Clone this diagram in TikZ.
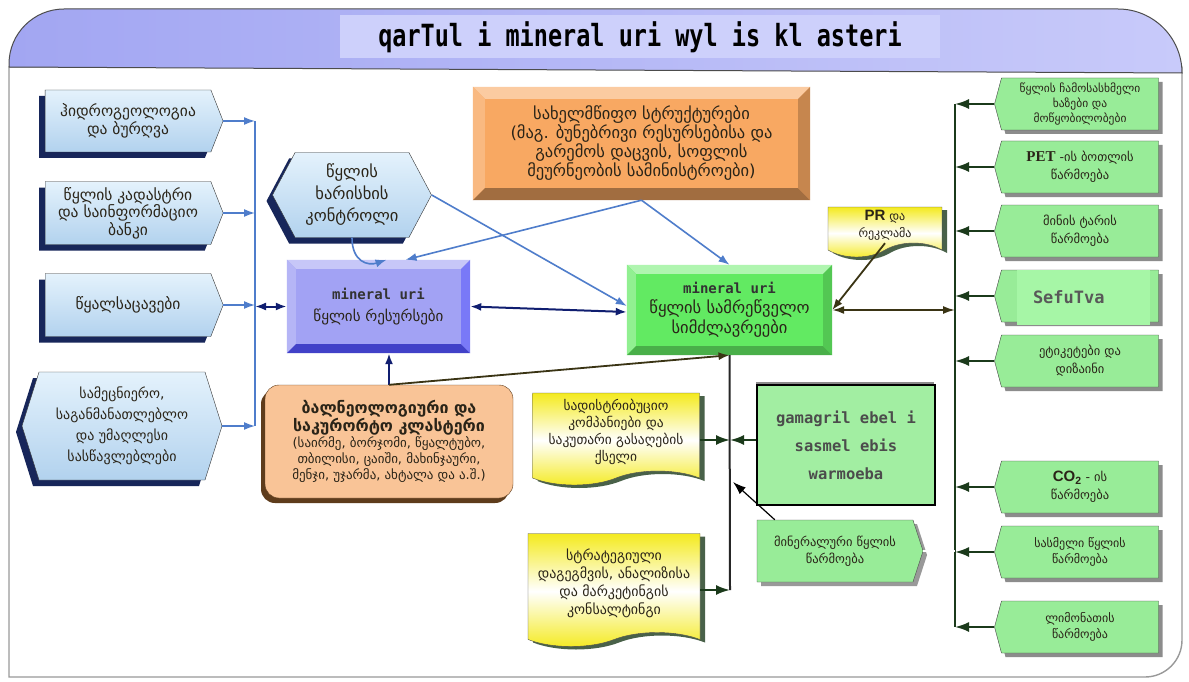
\documentclass[tikz,border=0pt]{standalone}
\usepackage{fontspec}
\setmainfont{DejaVu Sans}
\newfontfamily\monofont{DejaVu Sans Mono}
\newfontfamily\arialfont{Liberation Sans}
\newfontfamily\timesfont{Liberation Serif}
\usetikzlibrary{shapes.symbols,shadows,arrows.meta}

\definecolor{inkbrown}{HTML}{2A2418}
\definecolor{paleblue}{HTML}{E4F2FC}
\definecolor{skyblue}{HTML}{B2D2EE}
\definecolor{navyshadow}{HTML}{17265A}
\definecolor{linkblue}{HTML}{4F7DCB}
\definecolor{navyline}{HTML}{101E70}
\definecolor{oliveline}{HTML}{3A3414}
\definecolor{forest}{HTML}{1B3A1B}
\definecolor{mintgreen}{HTML}{98EC98}
\definecolor{palemint}{HTML}{A6F6A6}
\definecolor{docyellow}{HTML}{F4EA1E}
\definecolor{peach}{HTML}{F9C497}
\definecolor{bark}{HTML}{5E3C1C}
\definecolor{headerleft}{HTML}{A2A6F2}
\definecolor{headerright}{HTML}{C8CAFA}
\definecolor{titleband}{HTML}{CDD0FB}
\definecolor{lavender}{HTML}{A2A2F4}
\definecolor{orangeface}{HTML}{F8A862}
\definecolor{greenface}{HTML}{62EA62}

\tikzset{
    leftbox/.style = {
        signal, signal to=east,
        draw            = black!80,
        top color       = paleblue,
        bottom color    = skyblue,
        text            = inkbrown,
        align           = center,
        inner sep       = 1pt,
        font            = \fontsize{15.5}{17.5}\selectfont,
        drop shadow     = {shadow xshift=-6pt, shadow yshift=-6pt, fill=navyshadow, opacity=1},
    },
    rightbox/.style = {
        signal, signal to=west,
        signal pointer angle = 150,
        draw            = black!75,
        fill            = mintgreen,
        text            = inkbrown,
        align           = center,
        inner sep       = 1pt,
        minimum width   = 164pt,
        minimum height  = 52pt,
        font            = \fontsize{12.5}{18}\selectfont,
        drop shadow     = {shadow xshift=4pt, shadow yshift=-4pt, fill=black!45, opacity=1},
    },
    bevelbox/.style = {
        rectangle,
        text            = inkbrown,
        align           = center,
        inner sep       = 1pt,
    },
    docbox/.style = {
        tape, tape bend top=none, tape bend bottom=in and out,
        tape bend height = 14pt,
        draw            = black!70,
        top color       = docyellow,
        bottom color    = docyellow,
        middle color    = white,
        text            = inkbrown,
        align           = center,
        inner sep       = 1pt,
        font            = \fontsize{13.5}{17}\selectfont,
        drop shadow     = {shadow xshift=5pt, shadow yshift=-3pt, fill=forest!80, opacity=1},
    },
    bluelink/.style  = {-{Latex[length=11pt,width=8pt]}, draw=linkblue, line width=1.6pt},
    navylink/.style  = {-{Latex[length=11pt,width=8pt]}, draw=navyline, line width=2pt},
    olivelink/.style = {-{Latex[length=11pt,width=8pt]}, draw=oliveline, line width=1.8pt},
    greenlink/.style = {-{Latex[length=14pt,width=10pt]}, draw=forest, line width=2pt},
    blacklink/.style = {-{Latex[length=13pt,width=9pt]}, draw=black, line width=1.2pt},
}

% bevel: node, top, left, bottom, right colours, depth
\newcommand\bevel[6]{%
  \fill[#2] (#1.north west) -- (#1.north east) -- ([shift={(-#6,-#6)}]#1.north east) -- ([shift={(#6,-#6)}]#1.north west) -- cycle;
  \fill[#3] (#1.north west) -- ([shift={(#6,-#6)}]#1.north west) -- ([shift={(#6,#6)}]#1.south west) -- (#1.south west) -- cycle;
  \fill[#4] (#1.south west) -- ([shift={(#6,#6)}]#1.south west) -- ([shift={(-#6,#6)}]#1.south east) -- (#1.south east) -- cycle;
  \fill[#5] (#1.south east) -- ([shift={(-#6,#6)}]#1.south east) -- ([shift={(-#6,-#6)}]#1.north east) -- (#1.north east) -- cycle;
}

\begin{document}
\begin{tikzpicture}[x=1pt,y=-1pt]
  \useasboundingbox (0,0) rectangle (1189,682);

  % Frame and header
  \draw[draw=black!40, line width=1.4pt, fill=white] (9,67) -- (9,677) -- (1145,677)
     arc[start angle=-90, end angle=0, radius=37pt] -- (1182,67) -- cycle;
  \draw[draw=black!70, line width=1pt, left color=headerleft, right color=headerright]
     (9,67) -- (9,64) arc[start angle=180, end angle=90, radius=55pt] -- (1118,9)
     arc[start angle=90, end angle=0, radius=64pt] -- cycle;
  \node[fill=titleband, minimum width=600pt, minimum height=43pt,
        font=\monofont\bfseries\fontsize{23.5}{23.5}\selectfont] (Title) at (640,37) {\scalebox{1}[1.3]{qarTul i mineral uri wyl is kl asteri}};

  % Left column
  \node[leftbox, minimum width=178pt, minimum height=62pt, signal pointer angle=137] (Hydro) at (128,121) {ჰიდროგეოლოგია\\და ბურღვა};
  \node[leftbox, minimum width=178pt, minimum height=63pt, signal pointer angle=137] (Cadastre) at (128,213) {წყლის კადასტრი\\და საინფორმაციო\\ბანკი};
  \node[leftbox, minimum width=178pt, minimum height=63pt, signal pointer angle=137] (Reservoirs) at (128,305) {წყალსაცავები};
  \node[leftbox, signal to=east and west, minimum width=200pt, minimum height=108pt, signal pointer angle=145,
        font=\fontsize{14}{21}\selectfont] (Science) at (122,426) {სამეცნიერო,\\საგანმანათლებლო\\და უმაღლესი\\სასწავლებლები};

  \coordinate (LeftBus) at (255,0);
  \draw[draw=linkblue, line width=2pt] (LeftBus |- Hydro.east) to (LeftBus |- Science.east);
  \draw[bluelink] (Hydro.east) to (LeftBus |- Hydro.east);
  \draw[bluelink] (Cadastre.east) to (LeftBus |- Cadastre.east);
  \draw[bluelink] (Reservoirs.east) to (LeftBus |- Reservoirs.east);
  \draw[bluelink] (Science.east) to (LeftBus |- Science.east);

  % Water resources
  \node[leftbox, signal to=east and west, minimum width=159pt, minimum height=85pt, signal pointer angle=124,
        font=\fontsize{16.5}{22}\selectfont] (Quality) at (352,195) {წყლის\\ხარისხის\\კონტროლი};
  \node[bevelbox, fill=lavender, minimum width=183pt, minimum height=93pt, font=\fontsize{15}{22}\selectfont] (Resources) at (378.5,306.5)
       {{\monofont\bfseries\fontsize{14}{14}\selectfont\color{black!80}mineral uri}\\წყლის რესურსები};
  \bevel{Resources}{lavender!60!white}{lavender!80!white}{lavender!50!blue!80!black}{lavender!75!blue}{9pt}

  % State structures
  \node[bevelbox, fill=orangeface, minimum width=337pt, minimum height=113pt, font=\fontsize{16.5}{19}\selectfont] (Gov) at (641.5,143.5)
       {სახელმწიფო სტრუქტურები\\(მაგ. ბუნებრივი რესურსებისა და\\გარემოს დაცვის, სოფლის\\მეურნეობის სამინისტროები)};
  \bevel{Gov}{orangeface!60!white}{orangeface!80!white}{orangeface!65!black}{orangeface!80!black}{12pt}

  % Industrial capacities
  \node[bevelbox, fill=greenface, minimum width=205pt, minimum height=90pt, font=\fontsize{16.5}{20}\selectfont] (Industry) at (729.5,310)
       {{\monofont\bfseries\fontsize{14}{14}\selectfont\color{black!80}mineral uri}\\წყლის სამრეწველო\\სიმძლავრეები};
  \bevel{Industry}{greenface!50!white}{greenface!70!white}{greenface!75!black}{greenface!85!black}{9pt}

  % Balneology cluster
  \node[rounded corners=14pt, draw=bark, fill=peach, text=inkbrown, align=center, inner sep=1pt,
        minimum width=248pt, minimum height=113pt, font=\fontsize{13}{16}\selectfont,
        drop shadow={shadow xshift=-4pt, shadow yshift=-5pt, fill=bark, opacity=1}] (Balneo) at (389,441.5)
       {{\bfseries\fontsize{16}{20}\selectfont ბალნეოლოგიური და}\\{\bfseries\fontsize{16}{20}\selectfont საკურორტო კლასტერი}\\(საირმე, ბორჯომი, წყალტუბო,\\თბილისი, ცაიში, მახინჯაური,\\მენჯი, უჯარმა, ახტალა და ა.შ.)};

  \draw[bluelink] (Gov.south) to ([xshift=27pt]Resources.north);
  \draw[bluelink] (Gov.south) to (Industry.north);
  \draw[bluelink] (Quality.south) .. controls (352,262) and (368,266) .. ([xshift=8pt]Resources.north);
  \draw[bluelink] (Quality.east) to ([yshift=4pt]Industry.west);
  \draw[navylink, {Latex[length=11pt,width=8pt]}-{Latex[length=11pt,width=8pt]}] (LeftBus |- Resources.west) to (Resources.west);
  \draw[navylink, {Latex[length=11pt,width=8pt]}-{Latex[length=11pt,width=8pt]}] (Resources.east) to ([yshift=-2pt]Industry.west);
  \draw[navylink] (Balneo.north) to (Balneo.north |- Resources.south);
  \draw[olivelink] (Balneo.north) to (Industry.south);

  % PR
  \node[docbox, minimum width=114pt, minimum height=50pt, font=\fontsize{12}{17}\selectfont] (Advert) at (885,225)
       {{\arialfont\bfseries\fontsize{15}{15}\selectfont PR} და\\რეკლამა};
  \draw[olivelink] (Advert.south) to (Industry.east);

  % Distribution and production
  \node[docbox, minimum width=167pt, minimum height=92pt] (Distributors) at (616,432)
       {სადისტრიბუციო\\კომპანიები და\\საკუთარი გასაღების\\ქსელი};
  \node[docbox, minimum width=172pt, minimum height=113pt, font=\fontsize{14}{18}\selectfont] (Strategy) at (614,583)
       {სტრატეგიული\\დაგეგმვის, ანალიზისა\\და მარკეტინგის\\კონსალტინგი};
  \node[rectangle, draw=black, line width=1.6pt, fill=mintgreen!90!white, text=black!70, align=center,
        minimum width=178pt, minimum height=120pt, font=\monofont\bfseries\fontsize{15.5}{28}\selectfont,
        drop shadow={shadow xshift=-1pt, shadow yshift=3pt, fill=black!45, opacity=1}] (CoolDrinks) at (846,445)
       {gamagril ebel i\\sasmel ebis\\warmoeba};
  \node[signal, signal to=east, signal pointer angle=144, draw=black!70, fill=mintgreen, text=inkbrown,
        align=center, inner sep=1pt, minimum width=166pt, minimum height=62pt, font=\fontsize{12.5}{17}\selectfont,
        drop shadow={shadow xshift=4pt, shadow yshift=-4pt, fill=black!40, opacity=1}] (MineralWater) at (835,551)
       {მინერალური წყლის\\წარმოება};

  \coordinate (DistMeet) at (730,440);
  \coordinate (CenterBus) at (730,590);
  \coordinate (CenterHit) at (733,482);
  \draw[draw=black!85, line width=2pt] (Industry.south) to (CenterBus);
  \draw[greenlink] (Distributors.east |- DistMeet) to (DistMeet);
  \draw[greenlink] (CoolDrinks.west |- DistMeet) to (DistMeet);
  \draw[greenlink] (Strategy.east |- CenterBus) to (CenterBus);
  \draw[blacklink] ([xshift=18pt]MineralWater.north west) to (CenterHit);

  % Right column
  \node[rightbox, font=\fontsize{11.5}{15}\selectfont] (Filling) at (1080,104) {წყლის ჩამოსასხმელი\\ხაზები და\\მოწყობილობები};
  \node[rightbox] (PetBottles) at (1080,167) {{\timesfont\bfseries\fontsize{15}{15}\selectfont PET} -ის ბოთლის\\წარმოება};
  \node[rightbox] (GlassTare) at (1080,231) {მინის ტარის\\წარმოება};
  \node[rightbox] (Packaging) at (1080,296) {};
  \node[fill=palemint, minimum width=133pt, minimum height=55pt, text width=101pt, align=left, inner sep=0pt,
        text=black!65, font=\monofont\bfseries\fontsize{17}{17}\selectfont] (PackagingText) at (1083.5,297.5) {SefuTva};
  \node[rightbox] (Labels) at (1080,361) {ეტიკეტები და\\დიზაინი};
  \node[rightbox] (CarbonDioxide) at (1080,487) {{\arialfont\bfseries\fontsize{15}{15}\selectfont CO\textsubscript{2}} - ის\\წარმოება};
  \node[rightbox, font=\fontsize{12}{16}\selectfont] (DrinkingWater) at (1080,552) {სასმელი წყლის\\წარმოება};
  \node[rightbox, font=\fontsize{12}{16}\selectfont] (Lemonade) at (1080,627) {ლიმონათის\\წარმოება};

  \coordinate (RightBus) at (955,0);
  \draw[draw=forest, line width=2pt] (RightBus |- Filling.west) to (RightBus |- Lemonade.west);
  \foreach \nd in {Filling,PetBottles,GlassTare,Packaging,Labels,CarbonDioxide,DrinkingWater,Lemonade}
    \draw[greenlink] (\nd.west) to (RightBus |- \nd.west);
  \draw[olivelink, {Latex[length=12pt,width=8pt]}-{Latex[length=12pt,width=8pt]}] (Industry.east) to (RightBus |- Industry.east);
  \draw[draw=black!45, double=white, double distance=1.6pt, line width=0.6pt] (MineralWater.east) to (RightBus |- MineralWater.east);

\end{tikzpicture}
\end{document}
